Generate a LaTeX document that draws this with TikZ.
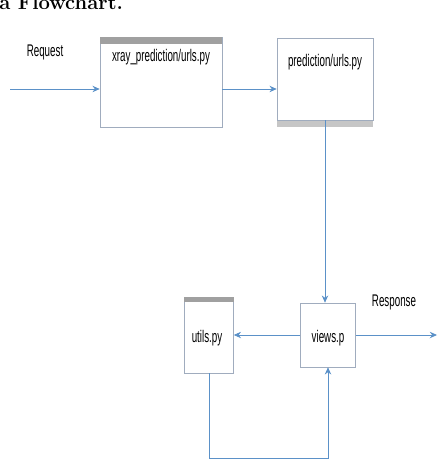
\documentclass[tikz,border=0pt]{standalone}
\usepackage{fontspec}
\usepackage{xcolor}
\usepackage{tikz}
\usetikzlibrary{arrows.meta, positioning, shadows}
\newfontfamily\narrowfont[FakeStretch=0.58]{Liberation Sans}
\definecolor{linecolor}{RGB}{91,145,200}
\definecolor{boxborder}{RGB}{160,172,190}
\definecolor{barcolor}{RGB}{120,120,120}

\begin{document}
\begin{tikzpicture}[
    x=0.025cm, y=-0.025cm,
    box/.style={draw=boxborder, fill=white, minimum width=#1, inner sep=0pt},
    shadowbox/.style={box=#1, drop shadow={shadow xshift=0pt, shadow yshift=-5pt, opacity=0.45}},
    lbl/.style={font=\narrowfont\large, inner sep=1pt},
    bar/.style={fill=barcolor!70},
    arrow/.style={-{Stealth[length=1.8mm, width=1.6mm]}, linecolor, semithick}
]
    \useasboundingbox (0,0) rectangle (440,464);

    % Heading (cut at the top)
    \node[font=\Large\bfseries, anchor=base west, inner sep=0pt] (title) at (-1,10) {a Flowchart.};

    % Boxes
    \node[box=3.05cm, minimum height=2.25cm] (xray) at (161,82) {};
    \node[shadowbox=2.4cm, minimum height=2.05cm] (pred) at (325,79) {};
    \node[box=1.375cm, minimum height=1.6cm] (views) at (328,335) {};
    \node[box=1.225cm, minimum height=1.9cm] (utils) at (209,335) {};

    % Grey bars on top
    \fill[bar] (xray.north west) rectangle ([yshift=-0.17cm]xray.north east);
    \fill[bar] (utils.north west) rectangle ([yshift=-0.14cm]utils.north east);

    % Texts
    \node[lbl] (xraytext) at (161,57) {xray\_prediction/urls.py};
    \node[lbl] (predtext) at (325,62) {prediction/urls.py};
    \node[lbl] (viewstext) at (328,338) {views.p};
    \node[lbl] (utilstext) at (207,338) {utils.py};
    \node[lbl] (reqtext) at (45,52) {Request};
    \node[lbl] (resptext) at (394,302) {Response};

    % Free ends
    \coordinate (req) at (10,89);
    \coordinate (resp) at (437,335);
    \coordinate (loop) at (328,458);

    % Connections
    \draw[arrow] (req) -- (req -| xray.west);
    \draw[arrow] (xray.east |- req) -- (pred.west |- req);
    \draw[arrow] (pred.south) -- (pred.south |- views.north);
    \draw[arrow] (views.east) -- (resp);
    \draw[arrow] (views.west) -- (utils.east);
    \draw[arrow] (utils.south) -- (utils.south |- loop) -- (loop) -- (views.south);
\end{tikzpicture}
\end{document}
